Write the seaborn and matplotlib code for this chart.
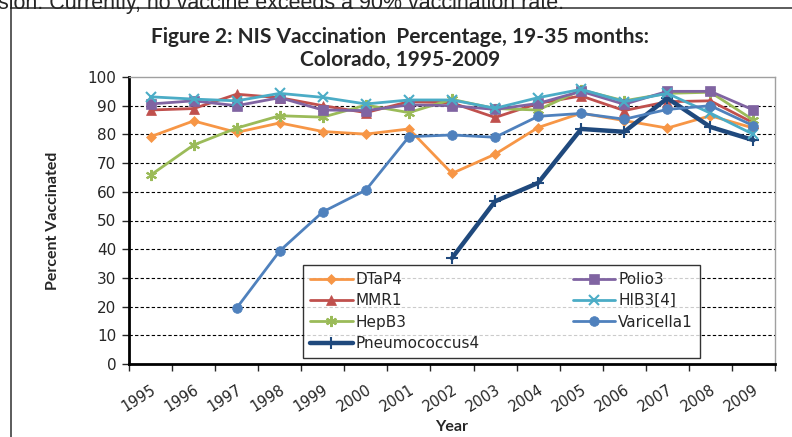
import numpy as np
import pandas as pd
import seaborn as sns
import matplotlib
matplotlib.use("Agg")
import matplotlib.pyplot as plt
from matplotlib.lines import Line2D

nan = np.nan
years = [str(y) for y in range(1995, 2010)]

dtap4 = [79.2, 84.7, 80.7, 84.0, 81.0, 80.1, 81.9, 66.4, 73.1, 82.4, 87.4, 84.8, 82.2, 86.5, 82.2]
mmr1 = [88.5, 89.0, 94.0, 92.8, 90.0, 87.6, 91.4, 91.0, 85.9, 90.8, 93.4, 88.3, 91.4, 91.7, 84.0]
hepb3 = [65.8, 76.3, 82.2, 86.5, 86.0, 90.2, 87.6, 92.2, 89.0, 88.5, 95.5, 91.7, 94.3, 94.7, 85.0]
pneumo4 = [nan, nan, nan, nan, nan, nan, nan, 36.9, 56.7, 63.1, 81.9, 80.9, 92.6, 82.6, 78.0]
polio3 = [90.6, 91.7, 90.0, 92.8, 88.5, 88.3, 90.3, 90.0, 88.7, 90.8, 95.0, 90.5, 95.0, 95.0, 88.5]
hib3 = [93.1, 92.3, 91.7, 94.3, 92.9, 90.6, 92.0, 92.0, 89.1, 92.8, 95.7, 91.4, 94.3, 87.4, 80.0]
varicella1 = [nan, nan, 19.5, 39.4, 53.0, 60.6, 79.2, 79.8, 79.0, 86.3, 87.3, 85.3, 88.7, 90.0, 83.0]

series = [
    ("DTaP4", dtap4, "#F79646", "D", 5, 2.0),
    ("MMR1", mmr1, "#C0504D", "^", 7, 2.0),
    ("HepB3", hepb3, "#9BBB59", (6, 2, 0), 8, 2.0),
    ("Pneumococcus4", pneumo4, "#1F497D", "+", 9, 3.2),
    ("Polio3", polio3, "#8064A2", "s", 7, 2.0),
    ("HIB3[4]", hib3, "#4BACC6", "x", 7, 2.0),
    ("Varicella1", varicella1, "#4F81BD", "o", 7, 2.0),
]

sns.set_style("white")
plt.rcParams["font.family"] = ["DejaVu Sans"]

fig = plt.figure(figsize=(7.92, 4.37), dpi=100)
ax = fig.add_axes([129 / 792, 1 - 364 / 437, (775 - 129) / 792, (364 - 77) / 437])

pos = np.arange(len(years))
for name, vals, color, marker, ms, lw in series:
    df = pd.DataFrame({"x": pos, "y": vals}).dropna()
    sns.lineplot(data=df, x="x", y="y", ax=ax, color=color, marker=marker,
                 markersize=ms, linewidth=lw, markeredgecolor=color,
                 markeredgewidth=1.5 if marker in ("x", "+", (6, 2, 0)) else 0.5,
                 label=name, zorder=3)

ax.set_xlim(-0.5, len(years) - 0.5)
ax.set_ylim(0, 100)
ax.set_yticks(range(0, 101, 10))
ax.tick_params(axis="y", labelsize=11, length=5, width=1, direction="out", left=True, pad=4)
for v in range(10, 100, 10):
    ax.axhline(v, color="black", linestyle=(0, (3, 2)), linewidth=0.8, zorder=1)

ax.set_xticks(np.arange(-0.5, len(years), 1))
ax.set_xticklabels([])
ax.set_xticks(pos, minor=True)
ax.set_xticklabels(years, minor=True, rotation=32, ha="right", rotation_mode="anchor", fontsize=10.5)
ax.tick_params(axis="x", which="major", length=5, width=1, direction="out", bottom=True)
ax.tick_params(axis="x", which="minor", length=0, pad=13)

for s in ("left", "bottom"):
    ax.spines[s].set_color("black")
    ax.spines[s].set_linewidth(2)
for s in ("top", "right"):
    ax.spines[s].set_color("#a0a0a0")
    ax.spines[s].set_linewidth(1)

ax.set_xlabel("Year", family="Lato", fontweight="bold", fontsize=11.5, labelpad=4)
ax.set_ylabel("Percent Vaccinated", family="Lato", fontweight="bold", fontsize=11.5, labelpad=20)

leg = ax.legend(ncol=2, loc="lower left", bbox_to_anchor=((303 - 129) / 646, (364 - 358) / 287,
                (700 - 303) / 646, (358 - 265) / 287), mode="expand", fontsize=11,
                frameon=True, fancybox=False, edgecolor="black", borderpad=0.45,
                borderaxespad=0, labelspacing=0.42, handlelength=2.8, handletextpad=0.2,
                columnspacing=1.0)
leg.get_frame().set_linewidth(1)

fig.text(400 / 792, 1 - 37 / 437, "Figure 2: NIS Vaccination  Percentage, 19-35 months:",
         ha="center", va="center", family="Lato", fontweight="bold", fontsize=15)
fig.text(400 / 792, 1 - 60 / 437, "Colorado, 1995-2009",
         ha="center", va="center", family="Lato", fontweight="bold", fontsize=15)

fig.text(-2 / 792, 1 - 3 / 437, "sion. Currently, no vaccine exceeds a 90% vaccination rate.",
         ha="left", va="center", fontsize=15.5, family="Liberation Sans")

fig.add_artist(Line2D([11 / 792, 11 / 792], [0, 1 - 8 / 437], color="#404040", linewidth=1.2))
fig.add_artist(Line2D([11 / 792, 1], [1 - 8 / 437, 1 - 8 / 437], color="#404040", linewidth=1.2))

fig.savefig("out.png", dpi=100)
plt.close(fig)
